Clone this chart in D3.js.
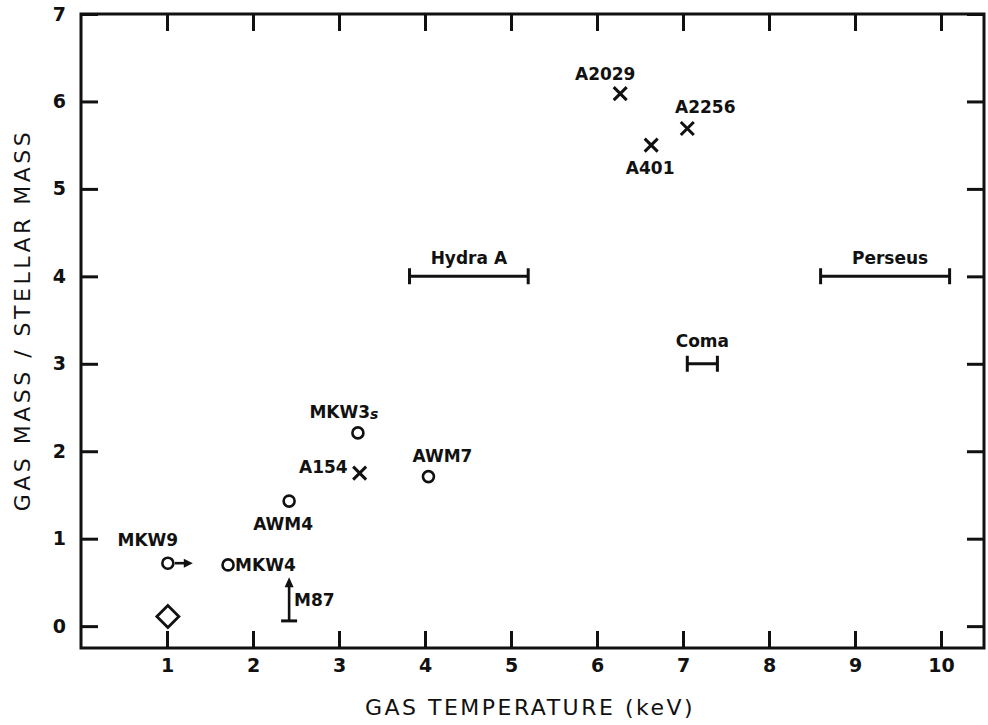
<!DOCTYPE html>
<html lang="en">
<head>
  <meta charset="UTF-8">
  <script src="https://d3js.org/d3.v7.min.js"></script>
  <title>Gas mass / stellar mass vs gas temperature</title>
  <style>
    body { margin: 0; background: #fff; }
    text { font-family: "DejaVu Sans", sans-serif; fill: #111; }
  </style>
</head>
<body>
  <div id="wrapper"></div>
  <script>
    // values (x = keV, y = gas mass / stellar mass)
    const crossNames = ["A2029", "A2256", "A401", "A154"]
    const crossTemp  = [6.27, 7.05, 6.63, 3.24]
    const crossRatio = [6.09, 5.69, 5.50, 1.75]

    const circleNames = ["MKW3s", "AWM7", "AWM4", "MKW9", "MKW4"]
    const circleTemp  = [3.22, 4.04, 2.42, 1.01, 1.71]
    const circleRatio = [2.21, 1.71, 1.43, 0.72, 0.70]

    const diamondTemp = [1.01]
    const diamondRatio = [0.11]

    // horizontal temperature ranges
    const rangeNames = ["Hydra A", "Coma", "Perseus"]
    const rangeLow   = [3.82, 7.05, 8.60]
    const rangeHigh  = [5.20, 7.40, 10.10]
    const rangeRatio = [4.0, 3.0, 4.0]

    // MKW9 lower limit on temperature, M87 lower limit on ratio
    const mkw9Arrow = { from: 1.01, to: 1.30, ratio: 0.72 }
    const m87 = { name: "M87", temp: 2.42, low: 0.06, high: 0.56 }

    const xTicks = [1, 2, 3, 4, 5, 6, 7, 8, 9, 10]
    const yTicks = [0, 1, 2, 3, 4, 5, 6, 7]

    // label placement, pixels relative to the mark
    const labelPos = {
      "A2029": [-15, -20, "middle"],
      "A2256": [18, -22, "middle"],
      "A401": [-1, 23, "middle"],
      "A154": [-12, -6, "end"],
      "MKW3s": [-14, -21, "middle"],
      "AWM7": [14, -21, "middle"],
      "AWM4": [-6, 23, "middle"],
      "MKW9": [-20, -23, "middle"],
      "MKW4": [7, 0, "start"],
      "Hydra A": [0, -18, "middle"],
      "Coma": [0, -23, "middle"],
      "Perseus": [5, -18, "middle"]
    }

    const dims = {
      width: 988,
      height: 725,
      margin: { top: 14, right: 4, bottom: 77, left: 81 }
    }
    dims.boundedWidth = dims.width - dims.margin.left - dims.margin.right
    dims.boundedHeight = dims.height - dims.margin.top - dims.margin.bottom

    const svg = d3.select("#wrapper")
        .append("svg")
        .attr("width", dims.width)
        .attr("height", dims.height)

    const bounds = svg.append("g")
        .attr("transform", `translate(${dims.margin.left},${dims.margin.top})`)

    const xScale = d3.scaleLinear()
        .domain([0, 10.5])
        .range([0, dims.boundedWidth])

    const yScale = d3.scaleLinear()
        .domain([-0.25, 7])
        .range([dims.boundedHeight, 0])

    const ink = "#111"
    const tickLen = 17

    /* axes, ticks pointing inward on all four sides */
    const xAxis = bounds.append("g")
        .attr("transform", `translate(0,${dims.boundedHeight})`)
        .call(d3.axisBottom(xScale).tickValues(xTicks).tickSizeInner(-tickLen).tickSizeOuter(0).tickPadding(11).tickFormat(d3.format("d")))
    const yAxis = bounds.append("g")
        .call(d3.axisLeft(yScale).tickValues(yTicks).tickSizeInner(-tickLen).tickSizeOuter(0).tickPadding(15).tickFormat(d3.format("d")))
    const xTop = bounds.append("g")
        .call(d3.axisTop(xScale).tickValues(xTicks).tickSizeInner(-tickLen).tickSizeOuter(0).tickFormat(""))
    const yRight = bounds.append("g")
        .attr("transform", `translate(${dims.boundedWidth},0)`)
        .call(d3.axisRight(yScale).tickValues(yTicks).tickSizeInner(-tickLen).tickSizeOuter(0).tickFormat(""))

    ;[xAxis, yAxis, xTop, yRight].forEach(g => {
      g.select(".domain").remove()
      g.selectAll(".tick line").attr("stroke", ink).attr("stroke-width", 3)
      g.selectAll(".tick text")
          .style("font-family", "DejaVu Sans, sans-serif")
          .style("font-size", "19px")
          .style("font-weight", "bold")
          .attr("fill", ink)
    })

    bounds.append("rect")
        .attr("width", dims.boundedWidth)
        .attr("height", dims.boundedHeight)
        .attr("fill", "none")
        .attr("stroke", ink)
        .attr("stroke-width", 3)

    /* axis titles */
    svg.append("text")
        .attr("x", 530)
        .attr("y", 715)
        .attr("text-anchor", "middle")
        .style("font-size", "22px")
        .style("letter-spacing", "2.5px")
        .text("GAS TEMPERATURE (keV)")

    svg.append("text")
        .attr("transform", `translate(30,${dims.margin.top + yScale(3.5)}) rotate(-90)`)
        .attr("text-anchor", "middle")
        .style("font-size", "22px")
        .style("letter-spacing", "3.5px")
        .text("GAS MASS / STELLAR MASS")

    const labelStyle = sel => sel
        .style("font-size", "17px")
        .style("font-weight", "bold")
        .attr("dy", "0.36em")

    const addLabel = (name, px, py) => {
      const [dx, dy, anchor] = labelPos[name]
      const t = bounds.append("text")
          .attr("x", px + dx)
          .attr("y", py + dy)
          .attr("text-anchor", anchor)
          .call(labelStyle)
      if (name === "MKW3s") {
        t.append("tspan").text("MKW3")
        t.append("tspan").text("s").style("font-size", "14px").style("font-style", "italic").attr("dy", "0.1em")
      } else {
        t.text(name)
      }
    }

    /* crosses */
    const cs = 6.5
    crossNames.forEach((name, i) => {
      const px = xScale(crossTemp[i]), py = yScale(crossRatio[i])
      bounds.append("path")
          .attr("d", `M${px - cs},${py - cs}L${px + cs},${py + cs}M${px - cs},${py + cs}L${px + cs},${py - cs}`)
          .attr("stroke", ink)
          .attr("stroke-width", 3)
      addLabel(name, px, py)
    })

    /* open circles */
    circleNames.forEach((name, i) => {
      const px = xScale(circleTemp[i]), py = yScale(circleRatio[i])
      bounds.append("circle")
          .attr("cx", px)
          .attr("cy", py)
          .attr("r", 5.5)
          .attr("fill", "none")
          .attr("stroke", ink)
          .attr("stroke-width", 2.6)
      addLabel(name, px, py)
    })

    /* MKW9 arrow */
    const ay = yScale(mkw9Arrow.ratio)
    const ax1 = xScale(mkw9Arrow.from) + 7, ax2 = xScale(mkw9Arrow.to)
    bounds.append("line")
        .attr("x1", ax1).attr("x2", ax2 - 6)
        .attr("y1", ay).attr("y2", ay)
        .attr("stroke", ink).attr("stroke-width", 2.6)
    bounds.append("path")
        .attr("d", `M${ax2},${ay}L${ax2 - 9},${ay - 4.5}L${ax2 - 9},${ay + 4.5}Z`)
        .attr("fill", ink)

    /* diamond */
    diamondTemp.forEach((t, i) => {
      const px = xScale(t), py = yScale(diamondRatio[i]), d = 11
      bounds.append("path")
          .attr("d", `M${px},${py - d}L${px + d},${py}L${px},${py + d}L${px - d},${py}Z`)
          .attr("fill", "none")
          .attr("stroke", ink)
          .attr("stroke-width", 2.8)
    })

    /* M87 limit */
    const mx = xScale(m87.temp), my1 = yScale(m87.low), my2 = yScale(m87.high)
    bounds.append("line")
        .attr("x1", mx).attr("x2", mx)
        .attr("y1", my1).attr("y2", my2 + 7)
        .attr("stroke", ink).attr("stroke-width", 2.6)
    bounds.append("line")
        .attr("x1", mx - 8).attr("x2", mx + 8)
        .attr("y1", my1).attr("y2", my1)
        .attr("stroke", ink).attr("stroke-width", 3)
    bounds.append("path")
        .attr("d", `M${mx},${my2}L${mx - 4.5},${my2 + 10}L${mx + 4.5},${my2 + 10}Z`)
        .attr("fill", ink)
    bounds.append("text")
        .attr("x", mx + 5)
        .attr("y", yScale((m87.low + m87.high) / 2) + 1)
        .call(labelStyle)
        .text(m87.name)

    /* temperature ranges */
    rangeNames.forEach((name, i) => {
      const x1 = xScale(rangeLow[i]), x2 = xScale(rangeHigh[i]), py = yScale(rangeRatio[i])
      bounds.append("path")
          .attr("d", `M${x1},${py}L${x2},${py}M${x1},${py - 8}L${x1},${py + 8}M${x2},${py - 8}L${x2},${py + 8}`)
          .attr("stroke", ink)
          .attr("stroke-width", 3)
      addLabel(name, (x1 + x2) / 2, py)
    })
  </script>
</body>
</html>
